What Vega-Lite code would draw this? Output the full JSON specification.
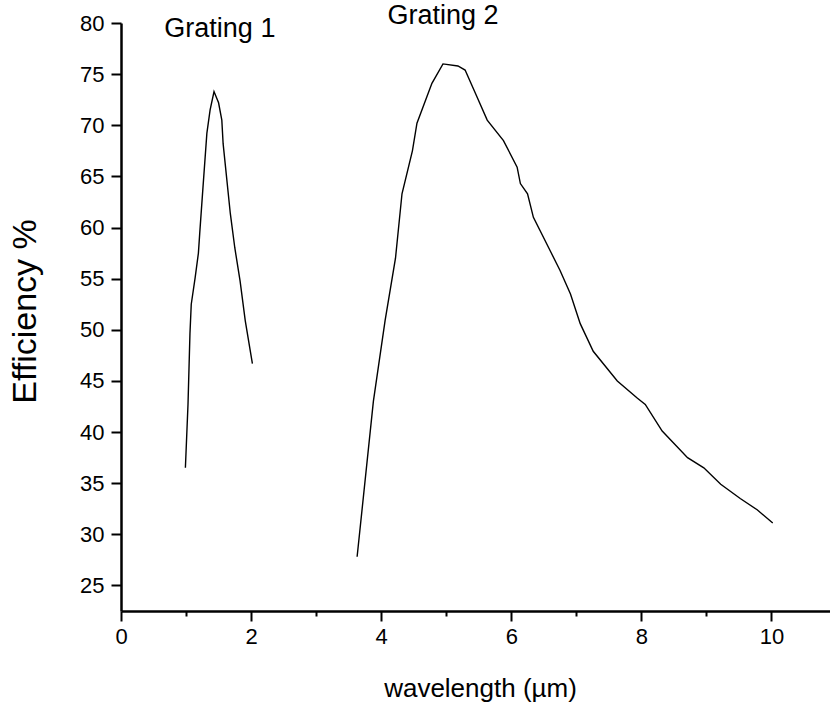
{
  "$schema": "https://vega.github.io/schema/vega-lite/v6.json",
  "autosize": "none",
  "width": 709,
  "height": 588,
  "padding": {"left": 121, "top": 23, "right": 0, "bottom": 93},
  "background": "white",
  "config": {"view": {"stroke": null}, "font": "Liberation Sans"},
  "datasets": {
    "curves": [
      {"series": "Grating 1", "wavelength": 0.99, "efficiency": 36.5},
      {"series": "Grating 1", "wavelength": 1.03, "efficiency": 42.7},
      {"series": "Grating 1", "wavelength": 1.06, "efficiency": 49.6},
      {"series": "Grating 1", "wavelength": 1.08, "efficiency": 52.5},
      {"series": "Grating 1", "wavelength": 1.14, "efficiency": 55.1},
      {"series": "Grating 1", "wavelength": 1.19, "efficiency": 57.5},
      {"series": "Grating 1", "wavelength": 1.21, "efficiency": 59.4},
      {"series": "Grating 1", "wavelength": 1.26, "efficiency": 63.9},
      {"series": "Grating 1", "wavelength": 1.32, "efficiency": 69.2},
      {"series": "Grating 1", "wavelength": 1.37, "efficiency": 71.5},
      {"series": "Grating 1", "wavelength": 1.43, "efficiency": 73.3},
      {"series": "Grating 1", "wavelength": 1.5, "efficiency": 72.2},
      {"series": "Grating 1", "wavelength": 1.55, "efficiency": 70.5},
      {"series": "Grating 1", "wavelength": 1.57, "efficiency": 68.2},
      {"series": "Grating 1", "wavelength": 1.68, "efficiency": 61.4},
      {"series": "Grating 1", "wavelength": 1.75, "efficiency": 58.0},
      {"series": "Grating 1", "wavelength": 1.83, "efficiency": 54.8},
      {"series": "Grating 1", "wavelength": 1.91, "efficiency": 50.9},
      {"series": "Grating 1", "wavelength": 2.02, "efficiency": 46.7},
      {"series": "Grating 2", "wavelength": 3.63, "efficiency": 27.8},
      {"series": "Grating 2", "wavelength": 3.88, "efficiency": 43.0},
      {"series": "Grating 2", "wavelength": 4.06, "efficiency": 50.9},
      {"series": "Grating 2", "wavelength": 4.22, "efficiency": 57.0},
      {"series": "Grating 2", "wavelength": 4.32, "efficiency": 63.3},
      {"series": "Grating 2", "wavelength": 4.48, "efficiency": 67.5},
      {"series": "Grating 2", "wavelength": 4.55, "efficiency": 70.2},
      {"series": "Grating 2", "wavelength": 4.78, "efficiency": 74.1},
      {"series": "Grating 2", "wavelength": 4.95, "efficiency": 76.0},
      {"series": "Grating 2", "wavelength": 5.18, "efficiency": 75.8},
      {"series": "Grating 2", "wavelength": 5.29, "efficiency": 75.4},
      {"series": "Grating 2", "wavelength": 5.45, "efficiency": 73.1},
      {"series": "Grating 2", "wavelength": 5.63, "efficiency": 70.5},
      {"series": "Grating 2", "wavelength": 5.88, "efficiency": 68.5},
      {"series": "Grating 2", "wavelength": 6.09, "efficiency": 65.9},
      {"series": "Grating 2", "wavelength": 6.14, "efficiency": 64.3},
      {"series": "Grating 2", "wavelength": 6.25, "efficiency": 63.3},
      {"series": "Grating 2", "wavelength": 6.34, "efficiency": 61.0},
      {"series": "Grating 2", "wavelength": 6.6, "efficiency": 57.7},
      {"series": "Grating 2", "wavelength": 6.75, "efficiency": 55.8},
      {"series": "Grating 2", "wavelength": 6.91, "efficiency": 53.5},
      {"series": "Grating 2", "wavelength": 7.06, "efficiency": 50.6},
      {"series": "Grating 2", "wavelength": 7.26, "efficiency": 47.9},
      {"series": "Grating 2", "wavelength": 7.63, "efficiency": 45.0},
      {"series": "Grating 2", "wavelength": 7.94, "efficiency": 43.3},
      {"series": "Grating 2", "wavelength": 8.06, "efficiency": 42.7},
      {"series": "Grating 2", "wavelength": 8.32, "efficiency": 40.1},
      {"series": "Grating 2", "wavelength": 8.71, "efficiency": 37.5},
      {"series": "Grating 2", "wavelength": 8.96, "efficiency": 36.5},
      {"series": "Grating 2", "wavelength": 9.22, "efficiency": 34.9},
      {"series": "Grating 2", "wavelength": 9.52, "efficiency": 33.5},
      {"series": "Grating 2", "wavelength": 9.78, "efficiency": 32.4},
      {"series": "Grating 2", "wavelength": 10.02, "efficiency": 31.1}
    ],
    "labels": [
      {"label": "Grating 1", "wavelength": 1.52, "efficiency": 79.4},
      {"label": "Grating 2", "wavelength": 4.95, "efficiency": 80.7}
    ]
  },
  "layer": [
    {
      "data": {"name": "curves"},
      "mark": {"type": "line", "stroke": "black", "strokeWidth": 1.4},
      "encoding": {
        "x": {
          "field": "wavelength", "type": "quantitative",
          "scale": {"domain": [0, 10.9], "nice": false, "zero": false},
          "axis": {
            "title": "wavelength (\u00b5m)",
            "values": [0, 1, 2, 3, 4, 5, 6, 7, 8, 9, 10],
            "format": "d",
            "labelExpr": "datum.value % 2 === 0 ? datum.label : ''",
            "grid": false,
            "domainColor": "black", "domainWidth": 2.5,
            "tickColor": "black", "tickWidth": 2,
            "tickSize": {"condition": {"test": "datum.value % 2 === 0", "value": 10}, "value": 5},
            "labelFont": "Liberation Sans", "labelFontSize": 22, "labelColor": "black",
            "labelPadding": 5, "labelFlush": false,
            "titleFont": "Liberation Sans", "titleFontSize": 26, "titleFontWeight": "normal", "titleColor": "black",
            "titleX": 359, "titleY": 77, "titleBaseline": "middle", "titleAlign": "center"
          }
        },
        "y": {
          "field": "efficiency", "type": "quantitative",
          "scale": {"domain": [22.5, 80], "nice": false, "zero": false},
          "axis": {
            "title": "Efficiency %",
            "values": [25, 27.5, 30, 32.5, 35, 37.5, 40, 42.5, 45, 47.5, 50, 52.5, 55, 57.5, 60, 62.5, 65, 67.5, 70, 72.5, 75, 77.5, 80],
            "labelExpr": "datum.value % 5 === 0 ? datum.label : ''",
            "grid": false,
            "domainColor": "black", "domainWidth": 2.5,
            "tickColor": "black", "tickWidth": 2,
            "tickSize": {"condition": {"test": "datum.value % 5 === 0", "value": 10}, "value": 5},
            "labelFont": "Liberation Sans", "labelFontSize": 22, "labelColor": "black",
            "labelPadding": 7, "labelFlush": false,
            "titleFont": "Liberation Sans", "titleFontSize": 34, "titleFontWeight": "normal", "titleColor": "black",
            "titleX": -96, "titleY": 288, "titleBaseline": "middle", "titleAlign": "center", "titleAngle": -90
          }
        },
        "detail": {"field": "series", "type": "nominal"}
      }
    },
    {
      "data": {"name": "labels"},
      "mark": {"type": "text", "font": "Liberation Sans", "fontSize": 27, "color": "black", "align": "center", "baseline": "middle"},
      "encoding": {
        "x": {"field": "wavelength", "type": "quantitative"},
        "y": {"field": "efficiency", "type": "quantitative"},
        "text": {"field": "label"}
      }
    }
  ]
}
